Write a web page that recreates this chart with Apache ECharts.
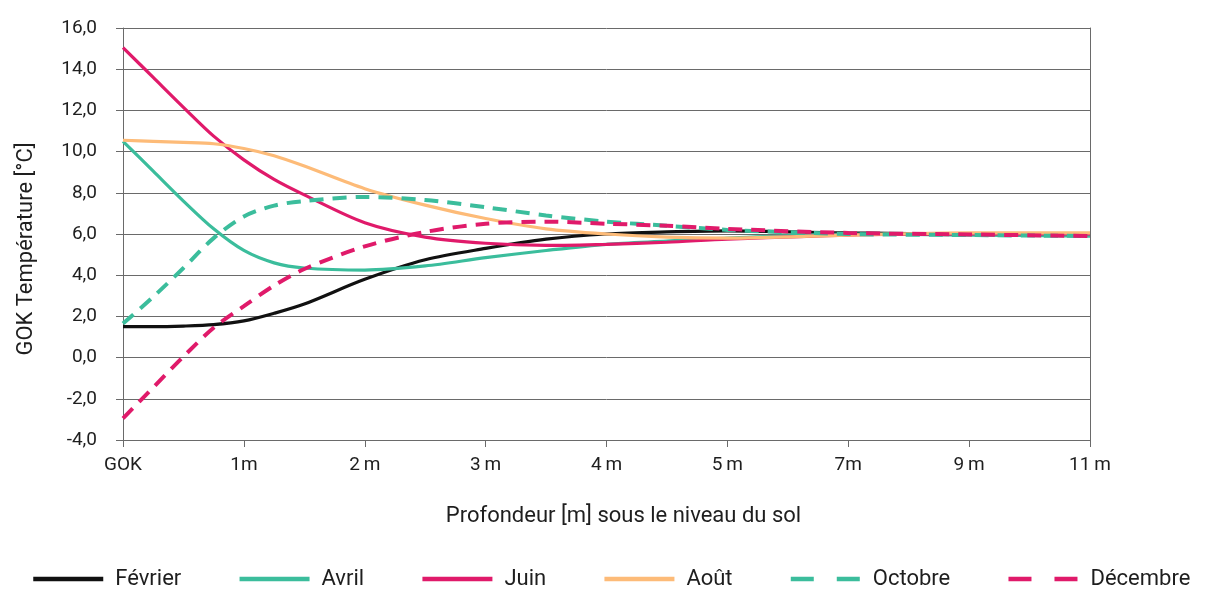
<!DOCTYPE html>
<html>
<head>
<meta charset="utf-8">
<script src="https://cdn.jsdelivr.net/npm/echarts@6/dist/echarts.min.js"></script>
<style>
  html, body { margin: 0; padding: 0; background: #fff; }
  #chart { width: 1206px; height: 590px; }
</style>
</head>
<body>
<div id="chart"></div>
<script>
// Depth tick labels (one per unit on the x scale)
const depthLabels = ['GOK', '1m', '2\u2009m', '3\u2009m', '4\u2009m', '5\u2009m', '7m', '9\u2009m', '11\u2009m'];
// Sample positions along the depth scale (in tick units)
const positions = [0, 0.25, 0.5, 0.75, 1, 1.25, 1.5, 2, 2.5, 3, 3.5, 4, 4.5, 5, 6, 7, 8];

// Ground temperature per month [°C]
const fevrier  = [1.5, 1.5, 1.53, 1.6, 1.78, 2.15, 2.6, 3.8, 4.75, 5.3, 5.75, 6.0, 6.1, 6.15, 6.05, 6.0, 6.0];
const avril    = [10.5, 9.05, 7.6, 6.25, 5.2, 4.6, 4.35, 4.25, 4.45, 4.85, 5.2, 5.5, 5.65, 5.8, 6.0, 5.95, 5.9];
const juin     = [15.05, 13.6, 12.15, 10.75, 9.6, 8.65, 7.9, 6.55, 5.85, 5.55, 5.45, 5.5, 5.6, 5.75, 5.95, 6.0, 6.0];
const aout     = [10.55, 10.5, 10.45, 10.38, 10.15, 9.8, 9.3, 8.2, 7.4, 6.75, 6.25, 6.0, 5.85, 5.8, 5.95, 6.05, 6.05];
const octobre  = [1.65, 2.95, 4.35, 5.8, 6.85, 7.38, 7.6, 7.8, 7.65, 7.3, 6.9, 6.6, 6.4, 6.2, 6.0, 5.95, 5.9];
const decembre = [-2.95, -1.45, 0.05, 1.45, 2.5, 3.5, 4.3, 5.4, 6.1, 6.5, 6.6, 6.5, 6.4, 6.25, 6.05, 5.98, 5.9];

const FONT = 'Roboto, "Noto Sans", sans-serif';
const TEXT = '#1e1e1e';
const GRID = '#6a6a6a';

const months = [
  { name: 'Février',  data: fevrier,  color: '#111111', dashed: false },
  { name: 'Avril',    data: avril,    color: '#3bbd9c', dashed: false },
  { name: 'Juin',     data: juin,     color: '#e01a6a', dashed: false },
  { name: 'Août',     data: aout,     color: '#fdbb78', dashed: false },
  { name: 'Octobre',  data: octobre,  color: '#3bbd9c', dashed: true },
  { name: 'Décembre', data: decembre, color: '#e01a6a', dashed: true }
];

const pair = arr => positions.map((p, i) => [p, arr[i]]);

const chart = echarts.init(document.getElementById('chart'), null, { renderer: 'canvas' });

chart.setOption({
  animation: false,
  backgroundColor: '#ffffff',
  textStyle: { fontFamily: FONT },
  grid: { left: 123, right: 116, top: 28, bottom: 150, containLabel: false },
  legend: {
    left: 31,
    top: 568,
    padding: 0,
    itemWidth: 70,
    itemHeight: 20,
    itemGap: 56,
    textStyle: { fontSize: 22, color: TEXT, fontFamily: FONT, padding: [0, 0, 0, 7] },
    data: months.map(m => ({
      name: m.name,
      itemStyle: { opacity: 0 },
      lineStyle: { color: m.color, width: 4.5, type: m.dashed ? [23, 23] : 'solid' }
    }))
  },
  xAxis: {
    type: 'value',
    min: 0,
    max: 8,
    interval: 1,
    name: 'Profondeur [m] sous le niveau du sol',
    nameLocation: 'middle',
    nameGap: 65,
    nameTextStyle: { fontSize: 22, color: TEXT, fontFamily: FONT, padding: [0, 0, 0, 34] },
    axisLine: { show: true, onZero: false, lineStyle: { color: GRID, width: 1 } },
    axisTick: { show: true, inside: false, length: 7, lineStyle: { color: GRID } },
    axisLabel: {
      fontSize: 19, color: TEXT, margin: 16,
      formatter: v => depthLabels[Math.round(v)] || ''
    },
    splitLine: { show: false }
  },
  yAxis: [
    {
      type: 'value',
      min: -4,
      max: 16,
      interval: 2,
      name: 'GOK Température [°C]',
      nameLocation: 'middle',
      nameGap: 86,
      nameTextStyle: { fontSize: 22, color: TEXT, fontFamily: FONT, padding: [0, 30, 0, 0] },
      axisLine: { show: true, lineStyle: { color: GRID, width: 1 } },
      axisTick: { show: true, length: 7, lineStyle: { color: GRID } },
      axisLabel: {
        fontSize: 19, color: TEXT, margin: 26,
        formatter: v => v.toFixed(1).replace('.', ',')
      },
      splitLine: { show: true, lineStyle: { color: GRID, width: 1 } }
    },
    {
      type: 'value',
      min: -4,
      max: 16,
      interval: 2,
      position: 'right',
      axisLine: { show: true, lineStyle: { color: GRID, width: 1 } },
      axisTick: { show: false },
      axisLabel: { show: false },
      splitLine: { show: false }
    }
  ],
  series: months.map(m => ({
    name: m.name,
    type: 'line',
    yAxisIndex: 0,
    data: pair(m.data),
    smooth: 0.3,
    symbol: 'none',
    color: m.color,
    lineStyle: {
      color: m.color,
      width: m.dashed ? 4 : 3.2,
      type: m.dashed ? [14, 9] : 'solid'
    }
  }))
});
</script>
</body>
</html>
